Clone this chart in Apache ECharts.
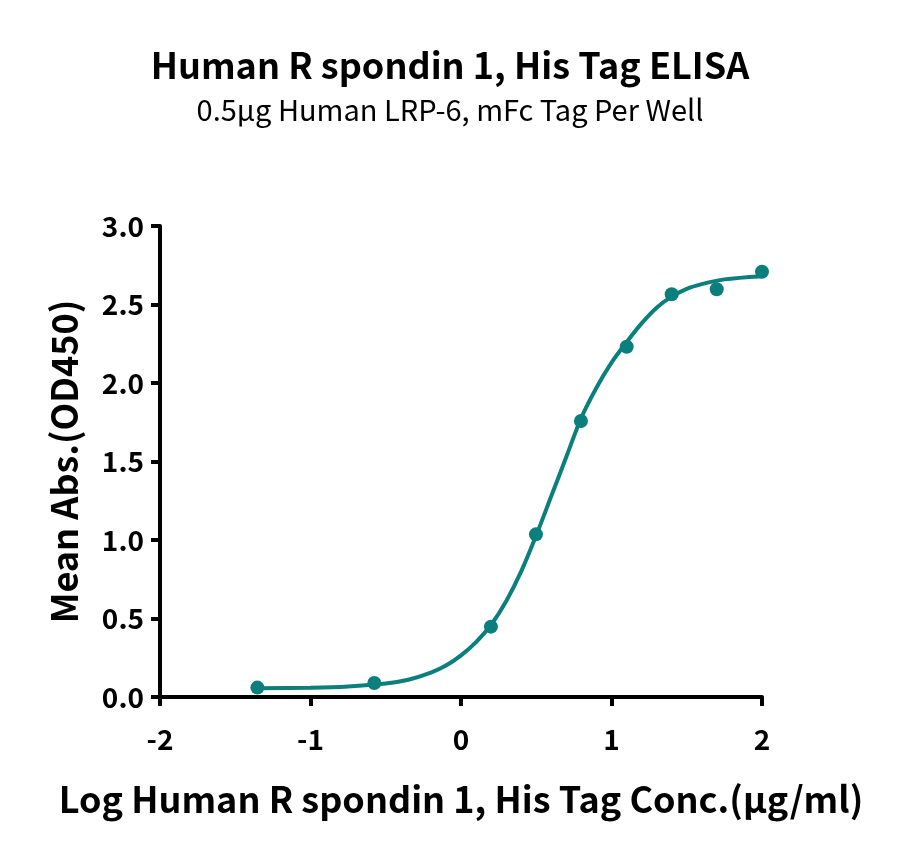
<!DOCTYPE html>
<html>
<head>
<meta charset="utf-8">
<script src="https://cdn.jsdelivr.net/npm/echarts@6/dist/echarts.min.js"></script>
<style>
  html, body { margin: 0; padding: 0; background: #fff; }
  #chart { width: 900px; height: 854px; }
</style>
</head>
<body>
<div id="chart"></div>
<script>
const TITLE = 'Human R spondin 1, His Tag ELISA';
const SUBTITLE = '0.5μg Human LRP-6, mFc Tag Per Well';
const X_NAME = 'Log Human R spondin 1, His Tag Conc.(μg/ml)';
const Y_NAME = 'Mean Abs.(OD450)';

// measured points (log conc, OD450)
const logConc = [-1.353, -0.576, 0.199, 0.498, 0.797, 1.101, 1.400, 1.699, 2.0];
const meanAbs = [0.060, 0.089, 0.448, 1.036, 1.758, 2.231, 2.565, 2.597, 2.709];

// fitted curve
const curveX = [-1.35, -1.0, -0.75, -0.5, -0.35, -0.2, -0.1, 0, 0.1, 0.2, 0.3, 0.4, 0.5, 0.6, 0.7, 0.8, 0.9, 1.0, 1.1, 1.2, 1.3, 1.4, 1.5, 1.6, 1.75, 2.0];
const curveY = [0.056, 0.059, 0.067, 0.086, 0.11, 0.155, 0.20, 0.265, 0.35, 0.46, 0.61, 0.80, 1.03, 1.28, 1.53, 1.78, 1.97, 2.13, 2.26, 2.38, 2.48, 2.55, 2.60, 2.63, 2.66, 2.68];

const COLOR = '#0b7e7e';
const FONT = '"Noto Sans CJK SC", "Noto Sans", sans-serif';

const chart = echarts.init(document.getElementById('chart'));

chart.setOption({
  animation: false,
  title: [
    {
      text: TITLE,
      left: 'center',
      top: 42,
      textStyle: { fontFamily: FONT, fontSize: 36, fontWeight: 'bold', color: '#000' }
    },
    {
      text: SUBTITLE,
      left: 'center',
      top: 90,
      textStyle: { fontFamily: FONT, fontSize: 29, fontWeight: 'normal', color: '#000' }
    }
  ],
  grid: { left: 160, right: 138, top: 226, bottom: 157 },
  xAxis: {
    type: 'value',
    min: -2,
    max: 2,
    interval: 1,
    name: X_NAME,
    nameLocation: 'middle',
    nameGap: 84,
    nameTextStyle: { fontFamily: FONT, fontSize: 36, fontWeight: 'bold', color: '#000' },
    axisLine: { onZero: false, lineStyle: { color: '#000', width: 4 } },
    axisTick: { show: true, length: 9, lineStyle: { color: '#000', width: 4 } },
    axisLabel: { fontFamily: FONT, fontSize: 28, fontWeight: 'bold', color: '#000', margin: 28 },
    splitLine: { show: false }
  },
  yAxis: {
    type: 'value',
    min: 0,
    max: 3,
    interval: 0.5,
    name: Y_NAME,
    nameLocation: 'middle',
    nameGap: 78,
    nameTextStyle: { fontFamily: FONT, fontSize: 36, fontWeight: 'bold', color: '#000' },
    axisLine: { show: true, onZero: false, lineStyle: { color: '#000', width: 4 } },
    axisTick: { show: true, length: 9, lineStyle: { color: '#000', width: 4 } },
    axisLabel: {
      fontFamily: FONT, fontSize: 28, fontWeight: 'bold', color: '#000', margin: 16,
      formatter: (v) => v.toFixed(1)
    },
    splitLine: { show: false }
  },
  series: [
    {
      type: 'line',
      data: curveX.map((x, i) => [x, curveY[i]]),
      smooth: 0.3,
      showSymbol: false,
      clip: false,
      lineStyle: { color: COLOR, width: 4 },
      z: 2
    },
    {
      type: 'scatter',
      data: logConc.map((x, i) => [x, meanAbs[i]]),
      symbol: 'circle',
      symbolSize: 14,
      clip: false,
      itemStyle: { color: COLOR, opacity: 1 },
      z: 3
    }
  ]
});
</script>
</body>
</html>
